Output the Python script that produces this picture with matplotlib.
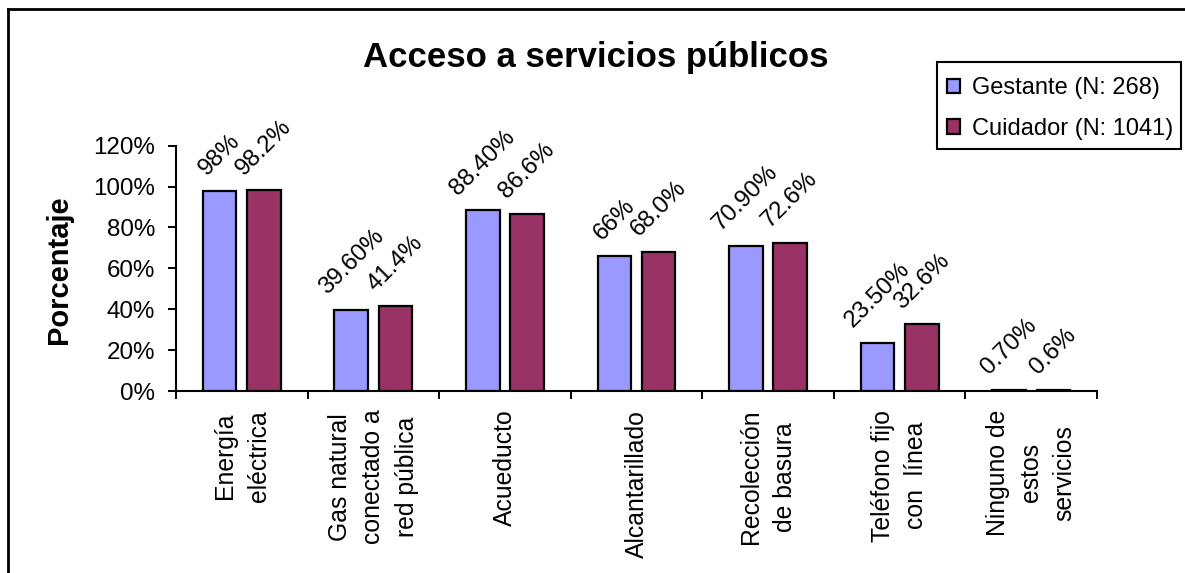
import matplotlib
matplotlib.use("Agg")
import matplotlib.pyplot as plt
from matplotlib.lines import Line2D
from matplotlib.patches import Rectangle
import numpy as np

# Service categories (x axis) and the share of each group with access
categories = [
    "Energía\neléctrica",
    "Gas natural\nconectado a\nred pública",
    "Acueducto",
    "Alcantarillado",
    "Recolección\nde basura",
    "Teléfono fijo\ncon  línea",
    "Ninguno de\nestos\nservicios",
]
gestante = [98.0, 39.6, 88.4, 66.0, 70.9, 23.5, 0.7]
cuidador = [98.2, 41.4, 86.6, 68.0, 72.6, 32.6, 0.6]
gestante_labels = ["98%", "39.60%", "88.40%", "66%", "70.90%", "23.50%", "0.70%"]
cuidador_labels = ["98.2%", "41.4%", "86.6%", "68.0%", "72.6%", "32.6%", "0.6%"]
series_names = ["Gestante (N: 268)", "Cuidador (N: 1041)"]
colors = ["#9999FF", "#993366"]
yticks = [0, 20, 40, 60, 80, 100, 120]

plt.rcParams["font.family"] = ["Liberation Sans", "DejaVu Sans"]

W, H = 1185, 573
fig = plt.figure(figsize=(W / 100, H / 100), dpi=100)
ax = fig.add_axes([176 / W, 1 - 391 / H, (1097 - 176) / W, (391 - 145.7) / H])
ax.set_zorder(0)

x = np.arange(len(categories))
bw = 0.255
off = 0.168
fs = 17.4

b1 = ax.bar(x - off, gestante, bw, color=colors[0], edgecolor="black",
            linewidth=1.6, label=series_names[0], zorder=3)
b2 = ax.bar(x + off, cuidador, bw, color=colors[1], edgecolor="black",
            linewidth=1.6, label=series_names[1], zorder=3)

# Rotated value labels above each bar
for xs, vals, labs in ((x - off, gestante, gestante_labels),
                       (x + off, cuidador, cuidador_labels)):
    for xi, v, lab in zip(xs, vals, labs):
        ax.annotate(lab, (xi, v), xytext=(0, 8), textcoords="offset points",
                    rotation=45, ha="center", va="bottom", fontsize=fs,
                    annotation_clip=False)

ax.set_xlim(-0.5, len(categories) - 0.5)
ax.set_ylim(0, 120)
for side in ("top", "right"):
    ax.spines[side].set_visible(False)
for side in ("left", "bottom"):
    ax.spines[side].set_linewidth(1.5)

ax.set_yticks(yticks)
ax.set_yticklabels([f"{t}%" for t in yticks])
ax.tick_params(axis="y", length=5.8, width=1.4, pad=9.4, labelsize=fs)

ax.set_xticks(x)
ax.set_xticklabels(categories)
ax.set_xticks(np.arange(-0.5, len(categories)), minor=True)
ax.tick_params(axis="x", which="major", length=0, pad=13.5, labelsize=17.8)
ax.tick_params(axis="x", which="minor", length=5.8, width=1.4)
for lbl in ax.get_xticklabels():
    lbl.set_rotation(90)
    lbl.set_ha("center")
    lbl.set_va("top")
    lbl.set_multialignment("center")
    lbl.set_linespacing(1.5)

fig.text(596 / W, 1 - 67 / H, "Acceso a servicios públicos", ha="center",
         va="baseline", fontsize=25, fontweight="bold")
fig.text(59 / W, 1 - 270 / H, "Porcentaje", rotation=90, ha="center",
         va="center", fontsize=21, fontweight="bold")

# Legend entries, with a plain rectangular frame drawn behind them
leg = fig.legend(handles=[b1, b2], loc="center left",
                 bbox_to_anchor=(947 / W, 1 - 108.5 / H),
                 bbox_transform=fig.transFigure, fontsize=17, frameon=False,
                 borderpad=0, handlelength=0.55, handleheight=0.55,
                 handletextpad=0.5, labelspacing=0.8, borderaxespad=0)
leg.set_zorder(5)
fig.add_artist(Rectangle((937 / W, 1 - 149 / H), (1181 - 937) / W, 87 / H,
                         transform=fig.transFigure, facecolor="white",
                         edgecolor="black", linewidth=1.5, zorder=2))

# Outer chart frame (top and left edges)
fig.add_artist(Line2D([8 / W, 1], [1 - 9 / H, 1 - 9 / H],
                      transform=fig.transFigure, color="black", lw=2))
fig.add_artist(Line2D([8 / W, 8 / W], [0, 1 - 9 / H],
                      transform=fig.transFigure, color="black", lw=2))

fig.savefig("out.png", dpi=100)
